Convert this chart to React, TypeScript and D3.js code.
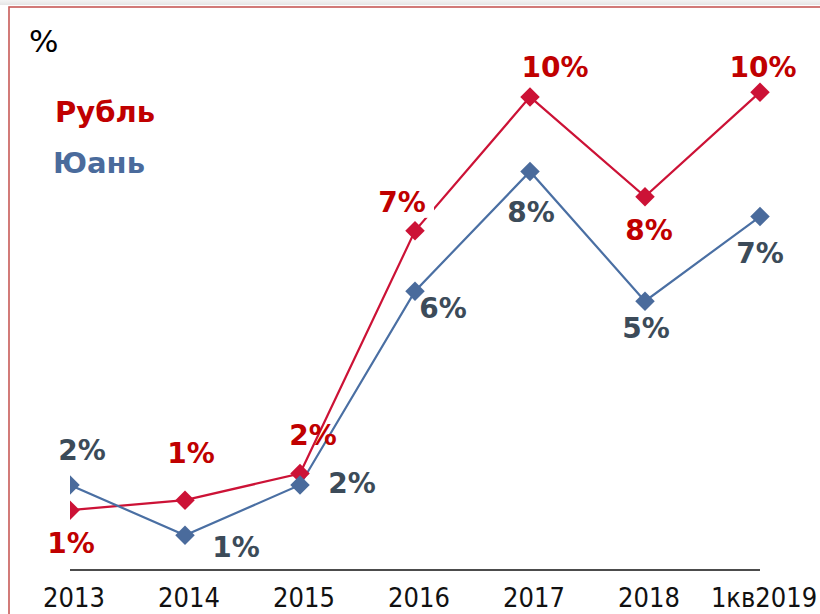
import React from "react";
import * as d3 from "d3";

const categories = ["2013", "2014", "2015", "2016", "2017", "2018", "1кв2019"];
const rubleValues = [1.26, 1.47, 2.03, 7.14, 9.96, 7.86, 10.06];
const yuanValues = [1.79, 0.73, 1.79, 5.87, 8.39, 5.66, 7.44];
const rubleLabels = ["1%", "1%", "2%", "7%", "10%", "8%", "10%"];
const yuanLabels = ["2%", "1%", "2%", "6%", "8%", "5%", "7%"];
const seriesNames = ["Рубль", "Юань"];
const unitLabel = "%";

// label placement offsets (style, not data)
const rubleOffsets: [number, number][] = [[1, 43], [6, -37], [13, -29], [-13, -19], [25, -20], [4, 43], [3, -15]];
const yuanOffsets: [number, number][] = [[12, -25], [51, 22], [52, 8], [28, 27], [1, 51], [1, 37], [0, 46]];

const W = 820;
const H = 614;
const RED_LINE = "#CC1236";
const RED_TEXT = "#C00000";
const BLUE_LINE = "#4A6FA3";
const BLUE_MARK = "#4A6B9C";
const BLUE_TEXT = "#3C4B59";
const FONT = "'DejaVu Sans', Verdana, sans-serif";
const CAT_FONT = "'DejaVu Sans Condensed', Tahoma, 'DejaVu Sans', sans-serif";

export default function App() {
  const x = d3.scalePoint<string>().domain(categories).range([70, 760]);
  const y = d3.scaleLinear().domain([0, 10]).range([570, 95]);
  const line = d3
    .line<number>()
    .x((_, i) => x(categories[i]) as number)
    .y((d) => y(d));
  const diamond = d3.symbol().type(d3.symbolSquare).size(190)();

  const series = [
    { values: rubleValues, labels: rubleLabels, offsets: rubleOffsets, line: RED_LINE, mark: RED_LINE, text: RED_TEXT },
    { values: yuanValues, labels: yuanLabels, offsets: yuanOffsets, line: BLUE_LINE, mark: BLUE_MARK, text: BLUE_TEXT },
  ];

  return (
    <svg
      width={W}
      height={H}
      style={{ position: "absolute", left: 0, top: 0, background: "#fff" }}
    >
      <defs>
        <clipPath id="plotClip">
          <rect x={70} y={0} width={W - 70} height={H} />
        </clipPath>
        <linearGradient id="shade" x1="0" y1="0" x2="0" y2="1">
          <stop offset="0" stopColor="#f4f4f4" />
          <stop offset="1" stopColor="#e6e6e6" />
        </linearGradient>
      </defs>
      <rect x={0} y={0} width={W} height={5} fill="url(#shade)" />
      <rect x={9} y={7} width={W + 20} height={H + 20} fill="#fff" stroke="#C75A58" strokeWidth={1.6} />

      <text x={29} y={52} fontFamily={FONT} fontSize={31} fill="#000">{unitLabel}</text>
      <text x={55} y={122} fontFamily={FONT} fontWeight="bold" fontSize={29} fill={RED_TEXT}>{seriesNames[0]}</text>
      <text x={53} y={173} fontFamily={FONT} fontWeight="bold" fontSize={29} fill={BLUE_MARK}>{seriesNames[1]}</text>

      <line x1={70} x2={760} y1={570} y2={570} stroke="#111" strokeWidth={1.6} />
      {categories.map((c) => (
        <text
          key={c}
          x={(x(c) as number) + 4}
          y={607}
          textAnchor="middle"
          fontFamily={CAT_FONT}
          fontSize={27}
          fill="#111"
        >
          {c}
        </text>
      ))}

      <g clipPath="url(#plotClip)">
        {series.map((s, si) => (
          <path key={"l" + si} d={line(s.values) as string} fill="none" stroke={s.line} strokeWidth={2.2} />
        ))}
        {series.map((s, si) =>
          s.values.map((v, i) => (
            <path
              key={"m" + si + i}
              d={diamond as string}
              transform={`translate(${x(categories[i])},${y(v)}) rotate(45)`}
              fill={s.mark}
            />
          ))
        )}
      </g>

      {series.map((s, si) =>
        s.values.map((v, i) => {
          const cx = (x(categories[i]) as number) + s.offsets[i][0];
          const cy = y(v) + s.offsets[i][1];
          const needsBg = si === 0 && i === 3;
          return (
            <g key={"t" + si + i}>
              {needsBg && <rect x={cx - 28} y={cy - 26} width={60} height={32} fill="#fff" />}
              <text
                x={cx}
                y={cy}
                textAnchor="middle"
                fontFamily={FONT}
                fontWeight="bold"
                fontSize={28}
                fill={s.text}
              >
                {s.labels[i]}
              </text>
            </g>
          );
        })
      )}
    </svg>
  );
}
